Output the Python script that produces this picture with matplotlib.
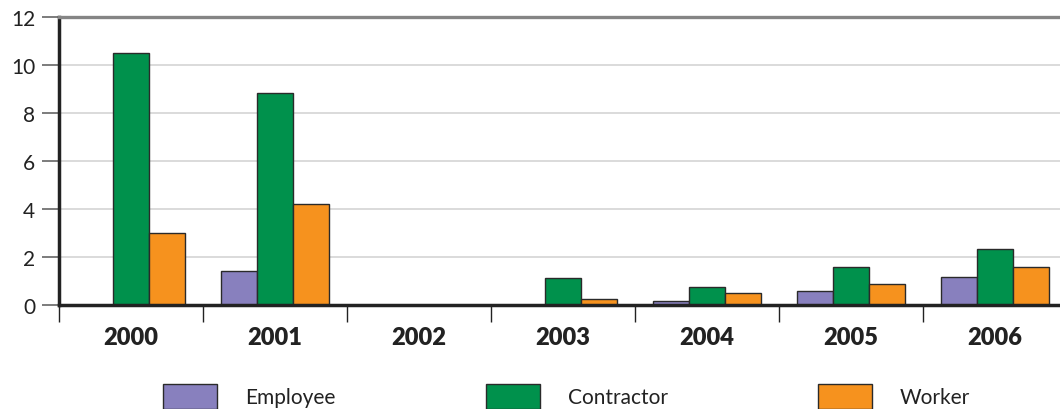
import matplotlib
matplotlib.use("Agg")
import matplotlib.pyplot as plt
import numpy as np

years = ["2000", "2001", "2002", "2003", "2004", "2005", "2006"]
employee = [0.0, 1.42, 0.0, 0.0, 0.17, 0.60, 1.18]
contractor = [10.5, 8.83, 0.0, 1.12, 0.74, 1.57, 2.32]
worker = [3.0, 4.2, 0.0, 0.24, 0.51, 0.86, 1.60]

series_names = ["Employee", "Contractor", "Worker"]
colors = ["#8880BE", "#00914C", "#F6921E"]

plt.rcParams['font.family'] = ['Lato', 'DejaVu Sans']

W, H = 1060, 410
fig = plt.figure(figsize=(W / 100, H / 100), dpi=100)
ax = fig.add_axes([59 / W, 1 - 306 / H, 1008 / W, 288 / H])

x = np.arange(len(years))
w = 0.25
handles = []
for k, (vals, name, c) in enumerate(zip([employee, contractor, worker], series_names, colors)):
    h = ax.bar(x + (k - 1) * w, vals, width=w, color=c, edgecolor="#2a2a2a",
               linewidth=1.0, label=name, zorder=3)
    handles.append(h)

ax.set_xlim(-0.5, len(years) - 0.5)
ax.set_ylim(0, 12)
ax.set_yticks(range(0, 13, 2))
ax.yaxis.grid(True, color="#d4d4d4", linewidth=1.2, zorder=0)
ax.set_axisbelow(True)

ax.spines["right"].set_visible(False)
ax.spines["top"].set_color("#858585")
ax.spines["top"].set_linewidth(2.4)
ax.spines["left"].set_color("#222222")
ax.spines["left"].set_linewidth(2.5)
ax.spines["bottom"].set_color("#222222")
ax.spines["bottom"].set_linewidth(2.5)
ax.spines["bottom"].set_zorder(4)

ax.tick_params(axis="y", length=12, width=1.2, color="#666666", pad=5,
               labelsize=15, labelcolor="#222222")
ax.set_xticks(x)
ax.set_xticklabels(years, fontsize=17, fontweight="heavy", color="#222222")
ax.tick_params(axis="x", which="major", length=0, pad=15)
ax.set_xticks(np.arange(-0.5, len(years) + 0.5, 1), minor=True)
ax.tick_params(axis="x", which="minor", length=12, width=1.0, color="#222222")

# one legend entry per series, spread across the bottom edge
legend_x = [163, 486, 818]
fs = 15
fs_px = fs * 100 / 72
for h, name, lx in zip(handles, series_names, legend_x):
    leg = fig.legend(handles=[h], labels=[name], loc="upper left",
                     bbox_to_anchor=(lx / W, 1 - 385 / H), frameon=False,
                     fontsize=fs, handlelength=54 / fs_px, handleheight=30 / fs_px,
                     handletextpad=28 / fs_px, borderpad=0, borderaxespad=0)
    for t in leg.get_texts():
        t.set_color("#222222")

fig.savefig("out.png", dpi=100)
